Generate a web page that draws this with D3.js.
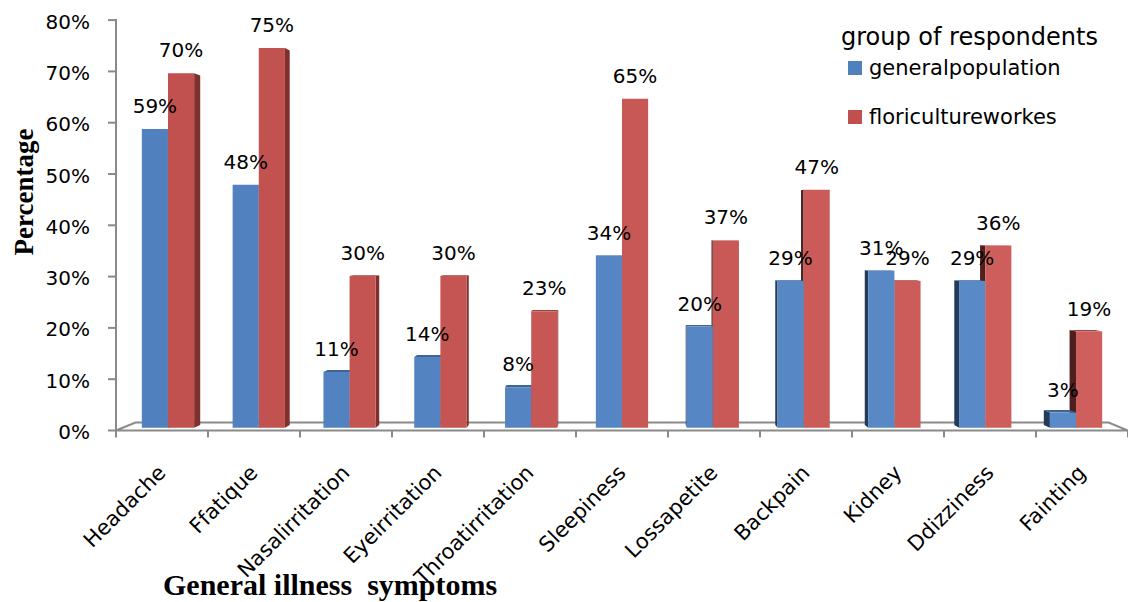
<!DOCTYPE html>
<html>
<head>
<meta charset="utf-8">
<script src="https://cdn.jsdelivr.net/npm/d3@7"></script>
<style>
  html, body { margin: 0; padding: 0; background: #fff; }
  svg { display: block; }
  .sans { font-family: "DejaVu Sans", sans-serif; fill: #000; }
  .serif { font-family: "Liberation Serif", "Times New Roman", serif; font-weight: bold; fill: #000; }
</style>
</head>
<body>
<svg id="chart" width="1128" height="602"></svg>
<script>
// Illness symptoms reported by two respondent groups
const categories = ["Headache", "Ffatique", "Nasalirritation", "Eyeirritation", "Throatirritation",
  "Sleepiness", "Lossapetite", "Backpain", "Kidney", "Ddizziness", "Fainting"];
const generalPopulation = [0.59, 0.48, 0.11, 0.14, 0.08, 0.34, 0.20, 0.29, 0.31, 0.29, 0.03];
const floricultureWorkers = [0.70, 0.75, 0.30, 0.30, 0.23, 0.65, 0.37, 0.47, 0.29, 0.36, 0.19];
const seriesNames = ["generalpopulation", "floricultureworkes"];
const yTicks = [0, 0.1, 0.2, 0.3, 0.4, 0.5, 0.6, 0.7, 0.8];

const svg = d3.select("#chart");

// Axis plane scales
const x = d3.scaleBand().domain(categories).range([116, 1128]).paddingInner(0).paddingOuter(0);
const inner = d3.scaleBand().domain(seriesNames).range([0, x.bandwidth()]).paddingInner(0).paddingOuter(0.736);
const y = d3.scaleLinear().domain([0, 0.8]).range([430.5, 20.1]);

// Simple perspective: points recede toward a vanishing point
const vp = { x: 622, y: 223 };
const depthFront = 0.987, depthBack = 0.973, floorBack = 0.9615;
const proj = (px, py, s) => [vp.x + (px - vp.x) * s, vp.y + (py - vp.y) * s];

const colors = {
  generalpopulation: { front: ["#4f81bd", "#5a8bc9"], top: "#3d6596", left: "#233a58", right: "#2f4d73", key: "#4f81bd" },
  floricultureworkes: { front: ["#c0504d", "#d0605d"], top: "#a04340", left: "#4f1f1e", right: "#7f302e", key: "#c0504d" }
};
// Lighting shifts slightly across the floor
const shade = d3.scaleLinear().domain([116, 1128]).range([0, 1]);

const axisGray = "#8a8a8a";

// Floor
const f0 = proj(116, y(0), 1), f1 = proj(1128, y(0), 1);
const b0 = proj(116, y(0), floorBack), b1 = proj(1128, y(0), floorBack);
svg.append("polygon")
  .attr("points", [f0, f1, b1, b0].map(p => p.join(",")).join(" "))
  .attr("fill", "#fff").attr("stroke", axisGray).attr("stroke-width", 2);

// X-axis ticks
svg.append("g").selectAll("line")
  .data(d3.range(categories.length + 1))
  .join("line")
  .attr("x1", i => 116 + i * x.step()).attr("x2", i => 116 + i * x.step())
  .attr("y1", y(0)).attr("y2", y(0) + 7)
  .attr("stroke", axisGray).attr("stroke-width", 2);

// Y axis
svg.append("line")
  .attr("x1", 116).attr("x2", 116).attr("y1", y(0.8) - 1).attr("y2", y(0))
  .attr("stroke", axisGray).attr("stroke-width", 2);
const yt = svg.append("g").selectAll("g").data(yTicks).join("g");
yt.append("line")
  .attr("x1", 108).attr("x2", 116).attr("y1", d => y(d)).attr("y2", d => y(d))
  .attr("stroke", axisGray).attr("stroke-width", 2);
yt.append("text").attr("class", "sans")
  .attr("x", 90).attr("y", d => y(d) + 8.5)
  .attr("text-anchor", "end").attr("font-size", 20)
  .text(d => d3.format(".0%")(d));

// Bars
const rows = categories.map((c, i) => ({
  cat: c,
  values: [
    { series: seriesNames[0], value: generalPopulation[i] },
    { series: seriesNames[1], value: floricultureWorkers[i] }
  ]
}));

const barLayer = svg.append("g");
const labelLayer = svg.append("g");
const poly = pts => pts.map(p => p.join(",")).join(" ");

rows.forEach(row => {
  const center = x(row.cat) + x.bandwidth() / 2;
  const order = center < vp.x ? row.values : row.values.slice().reverse();
  order.forEach(d => {
    const xl = x(row.cat) + inner(d.series);
    const xr = xl + inner.bandwidth();
    const yt = y(d.value), yb = y(0);
    const c = colors[d.series];
    const FLT = proj(xl, yt, depthFront), FRT = proj(xr, yt, depthFront);
    const FLB = proj(xl, yb, depthFront), FRB = proj(xr, yb, depthFront);
    const BLT = proj(xl, yt, depthBack), BRT = proj(xr, yt, depthBack);
    const BLB = proj(xl, yb, depthBack), BRB = proj(xr, yb, depthBack);
    const g = barLayer.append("g");
    if (xr < vp.x) g.append("polygon").attr("points", poly([FRT, BRT, BRB, FRB])).attr("fill", c.right);
    if (xl > vp.x) g.append("polygon").attr("points", poly([FLT, BLT, BLB, FLB])).attr("fill", c.left);
    if (yt > vp.y) g.append("polygon").attr("points", poly([FLT, FRT, BRT, BLT])).attr("fill", c.top);
    g.append("polygon").attr("points", poly([FLT, FRT, FRB, FLB]))
      .attr("fill", d3.interpolateRgb(c.front[0], c.front[1])(shade(center)));

    labelLayer.append("text").attr("class", "sans")
      .attr("x", (FLT[0] + FRT[0]) / 2).attr("y", FLT[1] - 16)
      .attr("text-anchor", "middle").attr("font-size", 20)
      .text(d3.format(".0%")(d.value));
  });
});

// Category labels
svg.append("g").selectAll("text")
  .data(categories)
  .join("text").attr("class", "sans")
  .attr("font-size", 21)
  .attr("text-anchor", "end")
  .attr("transform", d => `translate(${x(d) + x.bandwidth() / 2 + 5},474) rotate(-45)`)
  .text(d => d);

// Axis titles
svg.append("text").attr("class", "serif")
  .attr("font-size", 27)
  .attr("text-anchor", "middle")
  .attr("transform", "translate(33,192) rotate(-90)")
  .text("Percentage");
svg.append("text").attr("class", "serif")
  .attr("font-size", 30)
  .attr("x", 163).attr("y", 595)
  .style("white-space", "pre")
  .text("General illness  symptoms");

// Legend
const legend = svg.append("g");
legend.append("text").attr("class", "sans").attr("font-size", 24)
  .attr("x", 841).attr("y", 44.5).text("group of respondents");
const li = legend.selectAll("g.item").data(seriesNames).join("g").attr("class", "item")
  .attr("transform", (d, i) => `translate(848,${61 + i * 49})`);
li.append("rect").attr("width", 14).attr("height", 14).attr("fill", d => colors[d].key);
li.append("text").attr("class", "sans").attr("font-size", 21)
  .attr("x", 21).attr("y", 14)
  .text(d => d);
</script>
</body>
</html>
